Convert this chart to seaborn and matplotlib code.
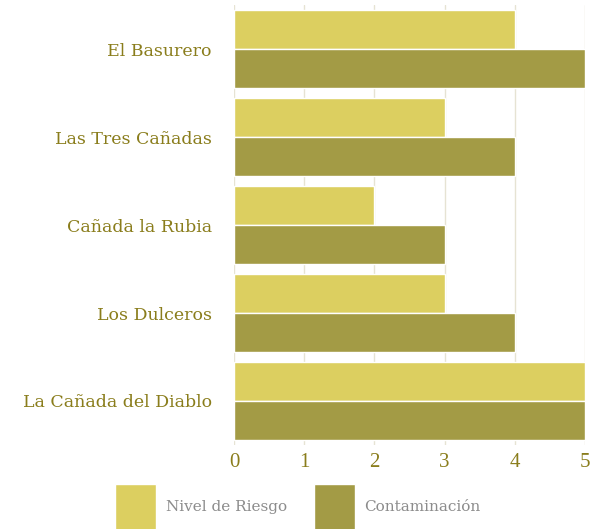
import pandas as pd
import numpy as np
import matplotlib.pyplot as plt
import seaborn as sns

lugares = ['El Basurero', 'Las Tres Cañadas', 'Cañada la Rubia', 'Los Dulceros', 'La Cañada del Diablo']
riesgo = [4, 3, 2, 3, 5]
contaminacion = [5, 4, 3, 4, 5]
series = ['Nivel de Riesgo', 'Contaminación']
colores = ['#dccf60', '#a39b45']

df = pd.DataFrame({
    'lugar': lugares * 2,
    'valor': riesgo + contaminacion,
    'serie': [series[0]] * len(lugares) + [series[1]] * len(lugares),
})

sns.set_style('white')
plt.rcParams['font.family'] = ['DejaVu Serif']

fig = plt.figure(figsize=(5.96, 5.29), dpi=100)
ax = fig.add_axes([0.3926, 0.1588, 0.5889, 0.8317])

sns.barplot(data=df, y='lugar', x='valor', hue='serie', palette=colores,
            orient='h', width=0.9, gap=0.02, saturation=1, ax=ax)

ax.set_xlim(0, 5)
ax.set_xticks([0, 1, 2, 3, 4, 5])
ax.set_xlabel('')
ax.set_ylabel('')
ax.grid(axis='x', color='#e6e3d3', linewidth=1)
ax.set_axisbelow(True)
for s in ax.spines.values():
    s.set_visible(False)
ax.tick_params(axis='y', length=0, pad=16, labelsize=12.5, labelcolor='#8a7d1c')
ax.tick_params(axis='x', length=0, pad=6, labelsize=15, labelcolor='#8a7d1c')
for t in ax.get_xticklabels():
    t.set_family('Liberation Serif')

ax.get_legend().remove()
handles, labels = ax.get_legend_handles_labels()
fig.legend(handles, labels, loc='upper center', bbox_to_anchor=(0.50, 0.100),
           ncol=2, frameon=False, fontsize=11, handlelength=2.7, handleheight=4.3,
           handletextpad=0.6, columnspacing=1.8, labelcolor='#8c8c8c', borderpad=0)

fig.savefig('out.png', dpi=100)
